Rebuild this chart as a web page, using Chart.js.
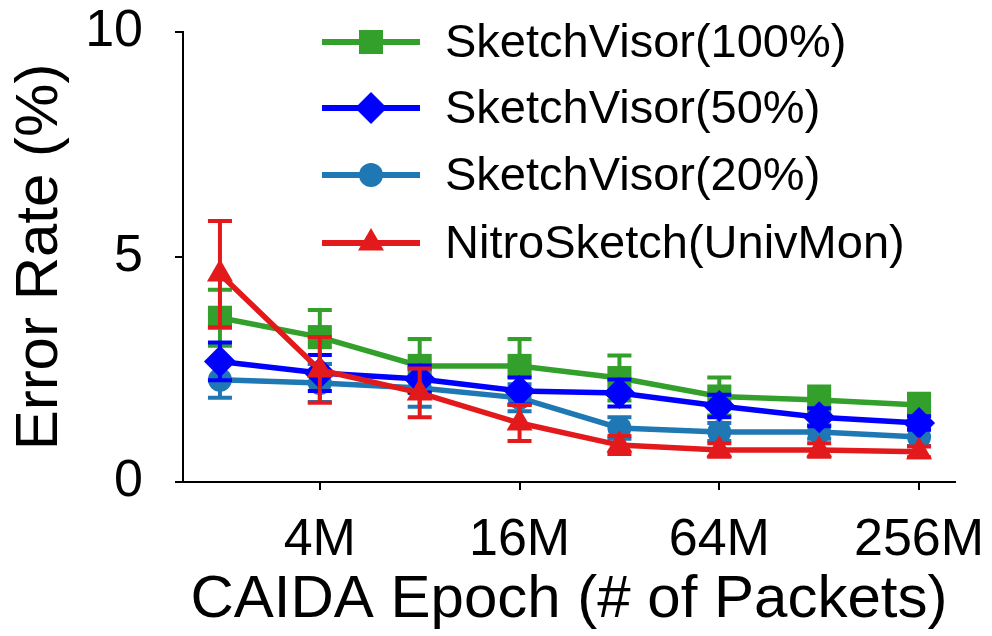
<!DOCTYPE html>
<html>
<head>
<meta charset="utf-8">
<script src="https://cdn.jsdelivr.net/npm/chart.js@4/dist/chart.umd.min.js"></script>
<style>
  html, body { margin: 0; padding: 0; background: #fff; }
  canvas { display: block; }
</style>
</head>
<body>
<canvas id="chart" width="992" height="636"></canvas>
<script>
// данные графика
const xLabels = ['2M', '4M', '8M', '16M', '32M', '64M', '128M', '256M'];
const shownTicks = [1, 3, 5, 7];
const yTicks = [0, 5, 10];

const seriesNames = ['SketchVisor(100%)', 'SketchVisor(50%)', 'SketchVisor(20%)', 'NitroSketch(UnivMon)'];

const sv100 = [3.65, 3.22, 2.58, 2.58, 2.31, 1.90, 1.82, 1.71];
const sv100Err = [0.62, 0.60, 0.60, 0.60, 0.50, 0.42, 0.30, 0.25];

const sv50 = [2.68, 2.42, 2.29, 2.02, 1.98, 1.69, 1.44, 1.31];
const sv50Err = [0.42, 0.40, 0.30, 0.30, 0.30, 0.25, 0.20, 0.15];

const sv20 = [2.27, 2.20, 2.09, 1.87, 1.20, 1.11, 1.11, 1.00];
const sv20Err = [0.40, 0.42, 0.42, 0.30, 0.24, 0.20, 0.15, 0.20];

const nitro = [4.62, 2.49, 1.98, 1.31, 0.82, 0.71, 0.71, 0.67];
const nitroErr = [1.18, 0.73, 0.54, 0.40, 0.20, 0.15, 0.15, 0.12];

const FONT = '"Liberation Sans", Arial, sans-serif';

function toPoints(vals) {
    return vals.map((v, i) => ({ x: i, y: v }));
}

function makeSet(name, vals, errs, color, style, radius, order) {
    return {
        label: name,
        data: toPoints(vals),
        errors: errs,
        borderColor: color,
        backgroundColor: color,
        pointBackgroundColor: color,
        pointBorderColor: color,
        pointBorderWidth: 0,
        pointStyle: style,
        pointRadius: radius,
        borderWidth: 5.5,
        tension: 0,
        order: order
    };
}

const datasets = [
    makeSet(seriesNames[0], sv100, sv100Err, '#33a02c', 'rect', 17, 3),
    makeSet(seriesNames[1], sv50, sv50Err, '#0000ff', 'rectRot', 16, 1),
    makeSet(seriesNames[2], sv20, sv20Err, '#1f78b4', 'circle', 12, 2),
    makeSet(seriesNames[3], nitro, nitroErr, '#e31a1c', 'triangle', 15, 0)
];

// усы погрешностей - рисуем перед каждым набором
const errorBars = {
    id: 'errorBars',
    beforeDatasetDraw(chart, args) {
        const ds = chart.data.datasets[args.index];
        const meta = args.meta;
        const yScale = chart.scales.y;
        const ctx = chart.ctx;
        ctx.save();
        ctx.strokeStyle = ds.borderColor;
        ctx.lineWidth = 4;
        meta.data.forEach((pt, i) => {
            const v = ds.data[i].y;
            const e = ds.errors[i];
            const yTop = yScale.getPixelForValue(v + e);
            const yBot = yScale.getPixelForValue(v - e);
            const x = pt.x;
            ctx.beginPath();
            ctx.moveTo(x, yTop);
            ctx.lineTo(x, yBot);
            ctx.moveTo(x - 12, yTop);
            ctx.lineTo(x + 12, yTop);
            ctx.moveTo(x - 12, yBot);
            ctx.lineTo(x + 12, yBot);
            ctx.stroke();
        });
        ctx.restore();
    }
};

function drawMarker(ctx, style, x, y, r) {
    ctx.beginPath();
    if (style === 'rect') {
        const s = r / Math.SQRT2;
        ctx.rect(x - s, y - s, 2 * s, 2 * s);
    } else if (style === 'rectRot') {
        ctx.moveTo(x, y - r);
        ctx.lineTo(x + r, y);
        ctx.lineTo(x, y + r);
        ctx.lineTo(x - r, y);
        ctx.closePath();
    } else if (style === 'circle') {
        ctx.arc(x, y, r, 0, Math.PI * 2);
    } else {
        const h = r * 1.5;
        const w = r * Math.sqrt(3);
        ctx.moveTo(x, y - r);
        ctx.lineTo(x + w / 2, y - r + h);
        ctx.lineTo(x - w / 2, y - r + h);
        ctx.closePath();
    }
    ctx.fill();
}

// легенда в верхней части области графика
const legendRows = [42, 108, 175, 243];
const customLegend = {
    id: 'customLegend',
    afterDraw(chart) {
        const ctx = chart.ctx;
        ctx.save();
        chart.data.datasets.forEach((ds, i) => {
            const y = legendRows[i];
            ctx.strokeStyle = ds.borderColor;
            ctx.lineWidth = 6;
            ctx.beginPath();
            ctx.moveTo(322, y);
            ctx.lineTo(420, y);
            ctx.stroke();
            ctx.fillStyle = ds.borderColor;
            drawMarker(ctx, ds.pointStyle, 371, y, ds.pointRadius);
            ctx.fillStyle = '#000';
            ctx.font = '47px ' + FONT;
            ctx.textAlign = 'left';
            ctx.textBaseline = 'middle';
            ctx.fillText(ds.label, 445, y + 2);
        });
        ctx.restore();
    }
};

new Chart(document.getElementById('chart'), {
    type: 'line',
    data: { datasets: datasets },
    options: {
        responsive: false,
        animation: false,
        devicePixelRatio: 1,
        layout: { padding: { top: 32, right: 37, left: 0, bottom: 0 } },
        plugins: {
            legend: { display: false },
            tooltip: { enabled: false }
        },
        scales: {
            x: {
                type: 'linear',
                min: -0.37,
                max: 7.36,
                afterFit(axis) {
                    axis.height = 154;
                    axis.paddingLeft = 0;
                    axis.paddingRight = 0;
                },
                afterBuildTicks(axis) {
                    axis.ticks = shownTicks.map(v => ({ value: v }));
                },
                ticks: {
                    autoSkip: false,
                    maxRotation: 0,
                    padding: 19,
                    color: '#000',
                    font: { family: FONT, size: 52 },
                    callback: v => xLabels[v]
                },
                grid: {
                    drawOnChartArea: false,
                    drawTicks: true,
                    tickLength: 8,
                    color: '#000',
                    lineWidth: 2
                },
                border: { color: '#000', width: 2 },
                title: {
                    display: true,
                    text: 'CAIDA Epoch (# of Packets)',
                    color: '#000',
                    font: { family: FONT, size: 60 },
                    padding: { top: 0, bottom: 0 }
                }
            },
            y: {
                min: 0,
                max: 10,
                afterFit(axis) {
                    axis.width = 183;
                    axis.paddingTop = 0;
                    axis.paddingBottom = 0;
                },
                afterBuildTicks(axis) {
                    axis.ticks = yTicks.map(v => ({ value: v }));
                },
                ticks: {
                    padding: 32,
                    color: '#000',
                    font: { family: FONT, size: 52 }
                },
                grid: {
                    drawOnChartArea: false,
                    drawTicks: true,
                    tickLength: 8,
                    color: '#000',
                    lineWidth: 2
                },
                border: { color: '#000', width: 2 },
                title: {
                    display: true,
                    text: 'Error Rate (%)',
                    color: '#000',
                    font: { family: FONT, size: 60 },
                    padding: { top: 4, bottom: 0 }
                }
            }
        }
    },
    plugins: [errorBars, customLegend]
});
</script>
</body>
</html>
